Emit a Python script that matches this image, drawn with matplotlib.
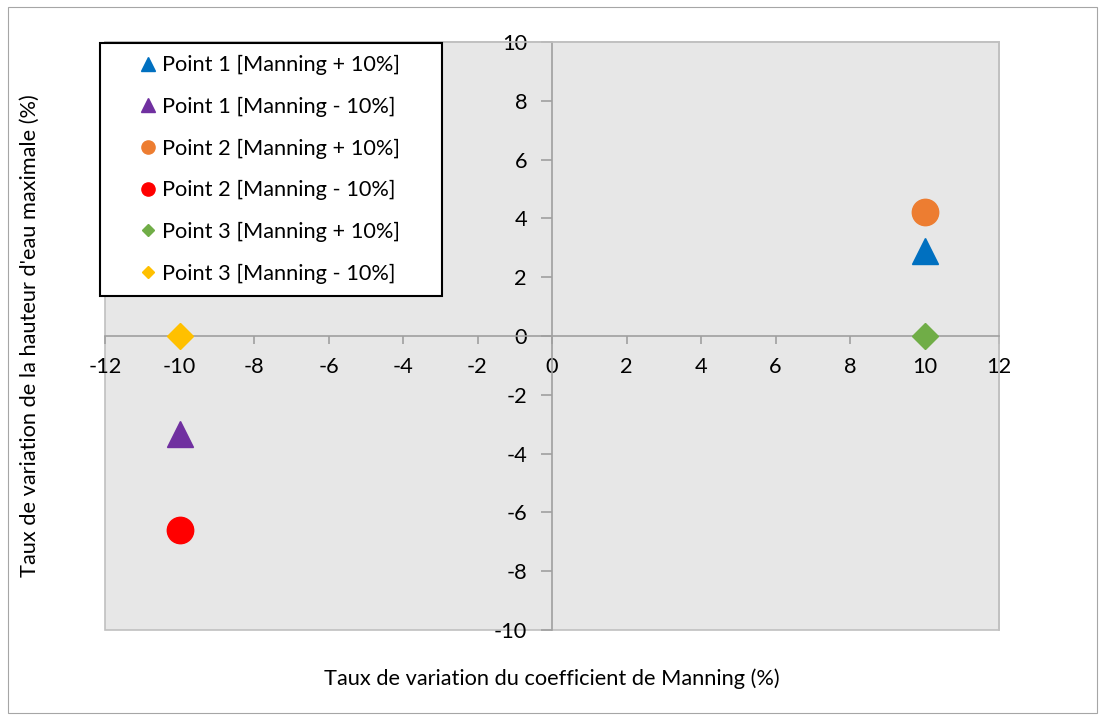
import matplotlib
matplotlib.use("Agg")
import matplotlib.pyplot as plt
from matplotlib.patches import Rectangle

plt.rcParams['font.family'] = ['Lato', 'DejaVu Sans']
plt.rcParams['axes.unicode_minus'] = False

# data
labels = ['Point 1 [Manning + 10%]', 'Point 1 [Manning - 10%]',
          'Point 2 [Manning + 10%]', 'Point 2 [Manning - 10%]',
          'Point 3 [Manning + 10%]', 'Point 3 [Manning - 10%]']
x_vals = [10, -10, 10, -10, 10, -10]
y_vals = [2.9, -3.35, 4.23, -6.6, 0.0, 0.0]
markers = ['^', '^', 'o', 'o', 'D', 'D']
colors = ['#0070c0', '#7030a0', '#ed7d31', '#ff0000', '#70ad47', '#ffc000']
sizes = [19, 19, 19, 19, 13, 13]

FS = 15.7
W, H = 1099, 715
fig = plt.figure(figsize=(W / 100, H / 100), dpi=100)
fig.patch.set_facecolor('white')
# outer chart border
fig.add_artist(Rectangle((8 / W, 1 - 713 / H), 1089 / W, 706 / H, transform=fig.transFigure,
                         fill=False, edgecolor='#a6a6a6', linewidth=0.8))

ax = fig.add_axes([105 / W, 1 - 630 / H, 894 / W, 588 / H])
ax.set_facecolor('#e7e7e7')

for xv, yv, m, c, s, lab in zip(x_vals, y_vals, markers, colors, sizes, labels):
    ax.plot([xv], [yv], linestyle='none', marker=m, color=c, markersize=s, label=lab,
            zorder=5, clip_on=False)

ax.set_xlim(-12, 12)
ax.set_ylim(-10, 10)
ax.set_xticks(range(-12, 13, 2))
ax.set_yticks(range(-10, 11, 2))

ax.spines['left'].set_position(('data', 0))
ax.spines['bottom'].set_position(('data', 0))
for sp in ['left', 'bottom']:
    ax.spines[sp].set_color('#a0a0a0')
    ax.spines[sp].set_linewidth(1.2)
for sp in ['top', 'right']:
    ax.spines[sp].set_color('#c0c0c0')
    ax.spines[sp].set_linewidth(1.2)
ax.add_patch(Rectangle((0, 0), 1, 1, transform=ax.transAxes, fill=False,
                       edgecolor='#c0c0c0', linewidth=1.2, clip_on=False, zorder=1))

ax.tick_params(axis='both', direction='out', width=1.2, color='#a0a0a0',
               labelsize=FS, labelcolor='black')
ax.tick_params(axis='x', length=6, pad=9)
ax.tick_params(axis='y', length=8, pad=10)

fig.text(552 / W, 1 - 679 / H, 'Taux de variation du coefficient de Manning (%)',
         ha='center', va='center', fontsize=FS)
fig.text(30 / W, 1 - 336 / H, "Taux de variation de la hauteur d'eau maximale (%)",
         ha='center', va='center', rotation=90, fontsize=FS)

# legend box
ax.add_patch(Rectangle((100 / W, 1 - 296 / H), 342 / W, 253 / H, transform=fig.transFigure,
                       facecolor='white', edgecolor='black', linewidth=1.5,
                       clip_on=False, zorder=9))
leg = ax.legend(loc='upper left', bbox_to_anchor=(137 / W, 1 - 55 / H),
                bbox_transform=fig.transFigure, fontsize=FS, markerscale=0.5,
                frameon=False, borderpad=0, labelspacing=0.99, handlelength=1.0,
                handletextpad=0.14, borderaxespad=0, numpoints=1)
leg.set_zorder(10)

fig.savefig('out.png', dpi=100)
